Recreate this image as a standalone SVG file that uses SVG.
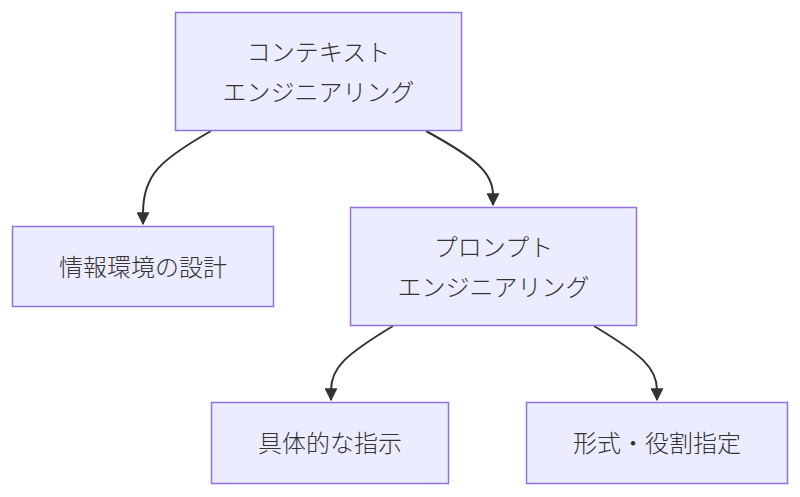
<svg xmlns="http://www.w3.org/2000/svg" width="800" height="497" viewBox="0 0 800 497">
<defs>
<style>
.node rect{fill:#ECECFF;stroke:#9370DB;stroke-width:1.5}
.node text{font-family:"Noto Sans CJK JP","Noto Sans",sans-serif;font-size:24px;font-weight:300;fill:#333;text-anchor:middle;dominant-baseline:central}
.edge{fill:none;stroke:#333;stroke-width:2}
</style>
<marker id="arr" viewBox="0 0 10 10" refX="9" refY="5" markerWidth="6.5" markerHeight="6.5" markerUnits="strokeWidth" orient="auto">
<path d="M0,0 L10,5 L0,10 z" fill="#333"/>
</marker>
</defs>
<rect width="800" height="497" fill="#fff"/>
<g id="connectors">
<path class="edge" d="M211,131 C160,160 143,175 143,213 L143,224" marker-end="url(#arr)"/>
<path class="edge" d="M426,131 C475,158 493,172 493,195 L493,205" marker-end="url(#arr)"/>
<path class="edge" d="M393,326 C345,355 331,368 331,390 L331,400" marker-end="url(#arr)"/>
<path class="edge" d="M594,326 C642,355 657,368 657,390 L657,400" marker-end="url(#arr)"/>
</g>
<g id="n1" class="node">
<rect x="175.5" y="12.5" width="286" height="118"/>
<text x="318.5" y="50">コンテキスト</text>
<text x="318.5" y="90">エンジニアリング</text>
</g>
<g id="n2" class="node">
<rect x="12.5" y="226.5" width="261" height="80"/>
<text x="143" y="265">情報環境の設計</text>
</g>
<g id="n3" class="node">
<rect x="350.5" y="207.5" width="286" height="118"/>
<text x="493.5" y="245">プロンプト</text>
<text x="493.5" y="285">エンジニアリング</text>
</g>
<g id="n4" class="node">
<rect x="211.5" y="402.5" width="237" height="81"/>
<text x="330" y="441">具体的な指示</text>
</g>
<g id="n5" class="node">
<rect x="526.5" y="402.5" width="261" height="81"/>
<text x="657" y="441">形式・役割指定</text>
</g>
</svg>
